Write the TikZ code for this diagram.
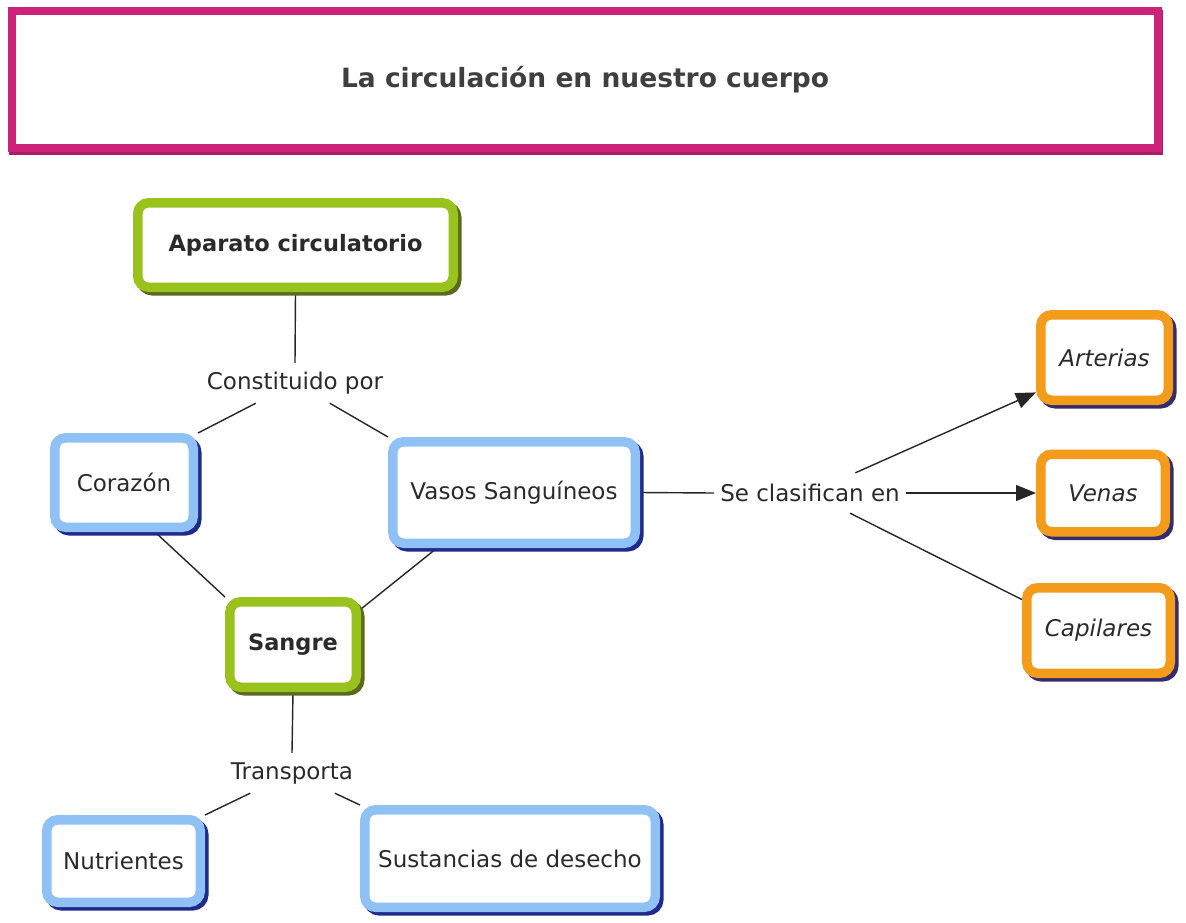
\documentclass[tikz,border=0pt]{standalone}
\usepackage{fontspec}
\setmainfont{DejaVu Sans}
\usetikzlibrary{arrows.meta,calc}
\pgfdeclarelayer{bg}
\pgfsetlayers{bg,main}
\definecolor{pinkc}{HTML}{CC2277}
\definecolor{grn}{HTML}{99C31C}
\definecolor{grnsh}{HTML}{5A6B20}
\definecolor{blu}{HTML}{8FC1F5}
\definecolor{blush}{HTML}{1E2A8C}
\definecolor{org}{HTML}{F39C1C}
\definecolor{orgsh}{HTML}{352C70}
\definecolor{txt}{HTML}{2A2A2A}
\begin{document}
\begin{tikzpicture}[x=1pt,y=-1pt,
  base/.style={draw, line width=9.5pt, fill=white, rounded corners=11pt,
    font=\fontsize{23}{27}\selectfont, text=txt, inner sep=0pt},
  gbox/.style={base, draw=grn, font=\fontsize{22.5}{27}\selectfont\bfseries,
    preaction={draw=grnsh, line width=9.5pt, transform canvas={shift={(3.5pt,-3.5pt)}}}},
  bbox/.style={base, draw=blu,
    preaction={draw=blush, line width=9.5pt, transform canvas={shift={(3.5pt,-3.5pt)}}}},
  obox/.style={base, draw=org, font=\fontsize{23}{27}\selectfont\itshape,
    preaction={draw=orgsh, line width=9.5pt, transform canvas={shift={(3.5pt,-3.5pt)}}}},
  tbox/.style={draw=pinkc, line width=8pt, fill=white, inner sep=0pt,
    font=\fontsize{26.5}{30}\selectfont\bfseries, text=txt!90,
    preaction={draw=pinkc!85!black, line width=8pt, transform canvas={shift={(1pt,-3pt)}}}},
  lbl/.style={font=\fontsize{23}{27}\selectfont, text=txt, inner xsep=6pt,
    inner ysep=0pt, minimum height=40pt},
  conn/.style={line width=1.4pt, draw=black!85},
  arr/.style={conn, -{Triangle[length=20pt,width=16pt]}}
]
\useasboundingbox (0,0) rectangle (1186,922);

\node[tbox, minimum width=1146pt, minimum height=137pt] (title) at (585,79.5) {La circulación en nuestro cuerpo};

\node[gbox, minimum width=315.5pt, minimum height=84.5pt] (aparato) at (295.5,245) {Aparato circulatorio};
\node[lbl] (constituido) at (295,383) {Constituido por};
\node[bbox, minimum width=138.5pt, minimum height=89.5pt] (corazon) at (124,482.5) {Corazón};
\node[bbox, minimum width=242.5pt, minimum height=101.5pt] (vasos) at (514,492.5) {Vasos Sanguíneos};
\node[gbox, minimum width=126.5pt, minimum height=85.5pt] (sangre) at (293,644.5) {Sangre};
\node[lbl] (transporta) at (292,773) {Transporta};
\node[bbox, minimum width=153.5pt, minimum height=82.5pt] (nutri) at (123.5,861) {Nutrientes};
\node[bbox, minimum width=290.5pt, minimum height=97.5pt] (sust) at (510,858.5) {Sustancias de desecho};
\node[lbl] (clasif) at (810,493) {Se clasifican en};
\node[obox, minimum width=127.5pt, minimum height=85.5pt] (arterias) at (1104.5,357.5) {Arterias};
\node[obox, minimum width=124.5pt, minimum height=77.5pt] (venas) at (1103,493) {Venas};
\node[obox, minimum width=143.5pt, minimum height=85.5pt] (capilares) at (1098.5,630.5) {Capilares};

\begin{pgfonlayer}{bg}
\draw[conn] (aparato.south) -- (constituido.north);
\draw[conn] (constituido) -- (corazon.north east);
\draw[conn] (constituido) -- (vasos.north west);
\draw[conn] ($(corazon.south)+(31,0)$) -- (sangre.north west);
\draw[conn] ($(vasos.south west)+(49,0)$) -- ($(sangre.north east)+(0,12)$);
\draw[conn] (sangre.south) -- (transporta.north);
\draw[conn] (transporta) -- (nutri.north east);
\draw[conn] (transporta) -- (sust.north west);
\draw[conn] (vasos.east) -- (clasif.west);
\draw[arr] (clasif) -- (arterias.207);
\draw[arr] (clasif.east) -- (venas.west);
\draw[conn] (clasif) -- (capilares.158);
\end{pgfonlayer}
\end{tikzpicture}
\end{document}
